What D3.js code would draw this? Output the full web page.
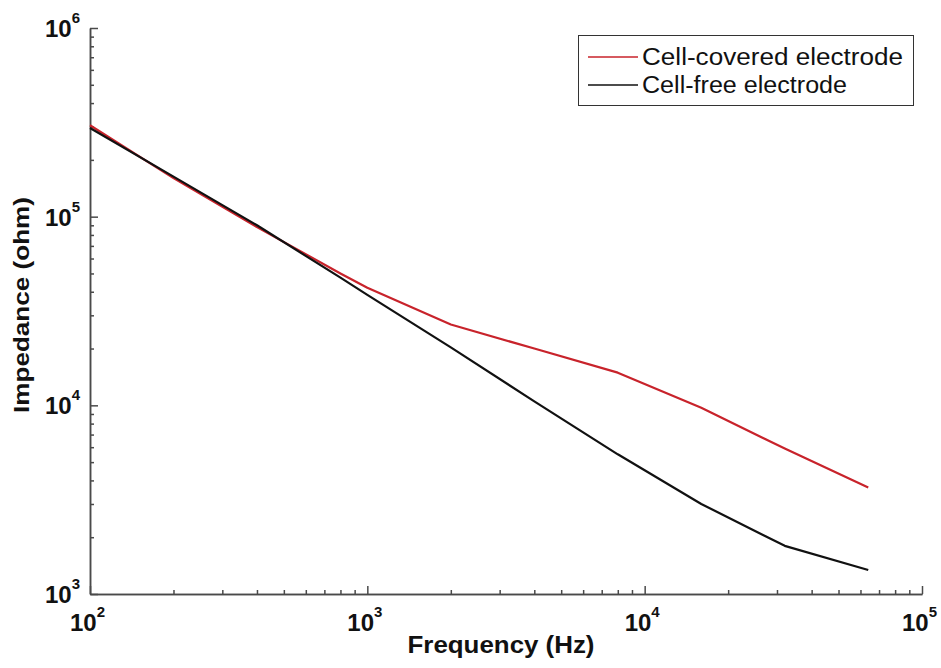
<!DOCTYPE html>
<html lang="en">
<head>
  <meta charset="utf-8" />
  <script src="https://d3js.org/d3.v7.min.js"></script>
  <style>
    body { margin: 0; background: #fff; }
    svg { font-family: "Liberation Sans", Arial, sans-serif; }
  </style>
</head>
<body>
  <script>
    var width = 941,
      height = 668;

    // data
    var frequencies = [100, 200, 400, 800, 1000, 2000, 4000, 8000, 16000, 32000, 64000];
    var cellCovered = [305000, 160000, 88000, 50000, 42000, 26800, 20000, 14900, 9700, 5900, 3670];
    var cellFree = [295000, 163000, 90000, 47500, 38500, 20300, 10500, 5500, 3000, 1800, 1340];
    var seriesNames = ["Cell-covered electrode", "Cell-free electrode"];
    var seriesColors = ["#c8232b", "#111111"];
    var xDecades = [100, 1000, 10000, 100000];
    var yDecades = [1000, 10000, 100000, 1000000];

    var svg = d3.select("body")
      .append("svg")
      .attr("width", width)
      .attr("height", height);

    var x = d3.scaleLog().domain([100, 100000]).range([90, 922]);
    var y = d3.scaleLog().domain([1000, 1000000]).range([594, 28]);

    var axisColor = "#4a4a4a";

    // minor ticks (inside)
    function minorTicks(scale) {
      var out = [];
      var d = scale.domain();
      for (var p = Math.round(Math.log10(d[0])); p < Math.round(Math.log10(d[1])); p++) {
        for (var k = 2; k <= 9; k++) out.push(k * Math.pow(10, p));
      }
      return out;
    }

    var xAxisG = svg.append("g").attr("transform", "translate(0,594)");
    xAxisG.call(d3.axisBottom(x).tickValues(minorTicks(x)).tickSizeInner(-4).tickSizeOuter(0).tickFormat(""));
    xAxisG.append("g").call(d3.axisBottom(x).tickValues(xDecades).tickSizeInner(-8).tickSizeOuter(0).tickFormat(""));
    xAxisG.selectAll("path, line").attr("stroke", axisColor).attr("stroke-width", 1.5);

    var yAxisG = svg.append("g").attr("transform", "translate(90,0)");
    yAxisG.call(d3.axisLeft(y).tickValues(minorTicks(y)).tickSizeInner(-4).tickSizeOuter(0).tickFormat(""));
    yAxisG.append("g").call(d3.axisLeft(y).tickValues(yDecades).tickSizeInner(-8).tickSizeOuter(0).tickFormat(""));
    yAxisG.selectAll("path, line").attr("stroke", axisColor).attr("stroke-width", 1.5);

    // tick labels 10^n
    function powerLabel(sel, v) {
      sel.append("tspan").text("10");
      sel.append("tspan")
        .attr("dy", -14)
        .attr("font-size", 15)
        .text(Math.round(Math.log10(v)));
    }

    svg.selectAll(".xlab")
      .data(xDecades)
      .enter().append("text")
      .attr("class", "xlab")
      .attr("x", function (d) { return x(d) - 20; })
      .attr("y", 631)
      .attr("font-size", 24)
      .attr("font-weight", "bold")
      .attr("fill", "#111")
      .each(function (d) { powerLabel(d3.select(this), d); });

    svg.selectAll(".ylab")
      .data(yDecades)
      .enter().append("text")
      .attr("class", "ylab")
      .attr("x", 45)
      .attr("y", function (d) { return y(d) + 9; })
      .attr("font-size", 24)
      .attr("font-weight", "bold")
      .attr("fill", "#111")
      .each(function (d) { powerLabel(d3.select(this), d); });

    // axis titles
    svg.append("text")
      .attr("x", 501)
      .attr("y", 653)
      .attr("text-anchor", "middle")
      .attr("font-size", 24)
      .attr("font-weight", "bold")
      .attr("fill", "#111")
      .attr("textLength", 187)
      .attr("lengthAdjust", "spacingAndGlyphs")
      .text("Frequency (Hz)");

    svg.append("text")
      .attr("transform", "translate(29,305) rotate(-90)")
      .attr("text-anchor", "middle")
      .attr("font-size", 22)
      .attr("font-weight", "bold")
      .attr("fill", "#111")
      .attr("textLength", 216)
      .attr("lengthAdjust", "spacingAndGlyphs")
      .text("Impedance (ohm)");

    // lines
    var line = d3.line()
      .x(function (d) { return x(d[0]); })
      .y(function (d) { return y(d[1]); });

    [cellCovered, cellFree].forEach(function (vals, i) {
      svg.append("path")
        .datum(frequencies.map(function (f, j) { return [f, vals[j]]; }))
        .attr("fill", "none")
        .attr("stroke", seriesColors[i])
        .attr("stroke-width", 2.2)
        .attr("stroke-linejoin", "round")
        .attr("d", line);
    });

    // legend
    var legend = svg.append("g");
    legend.append("rect")
      .attr("x", 578.5)
      .attr("y", 35.5)
      .attr("width", 335)
      .attr("height", 70)
      .attr("fill", "#fff")
      .attr("stroke", "#333")
      .attr("stroke-width", 1);

    var legendWidths = [261, 205];
    seriesNames.forEach(function (name, i) {
      var ly = 57 + i * 28;
      legend.append("line")
        .attr("x1", 588).attr("x2", 638)
        .attr("y1", ly).attr("y2", ly)
        .attr("stroke", seriesColors[i])
        .attr("stroke-width", 1.5);
      legend.append("text")
        .attr("x", 642)
        .attr("y", ly + 8)
        .attr("font-size", 23)
        .attr("fill", "#111")
        .attr("textLength", legendWidths[i])
        .attr("lengthAdjust", "spacingAndGlyphs")
        .text(name);
    });
  </script>
</body>
</html>
